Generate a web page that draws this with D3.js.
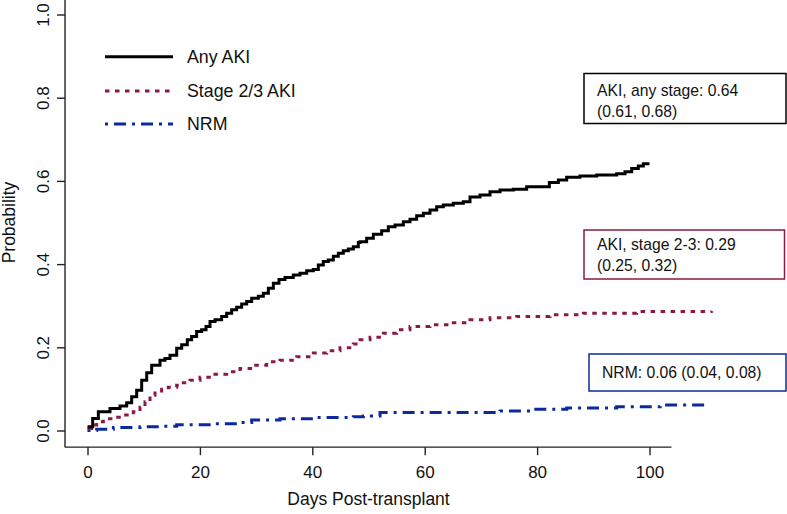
<!DOCTYPE html>
<html><head><meta charset="utf-8">
<script src="https://cdn.jsdelivr.net/npm/d3@7"></script>
<style>
html,body{margin:0;padding:0;background:#fff;}
svg{display:block;font-family:"Liberation Sans",Arial,Helvetica,sans-serif;}
</style></head>
<body>
<svg id="chart" width="787" height="514"></svg>
<script>
// ---- data ----
const anyAKIDays = [0,0.92,1.93,4.0,5.78,6.97,7.86,8.75,9.64,10.53,11.42,12.9,13.79,14.68,15.87,16.76,17.76,18.53,19.42,20.31,21.09,21.8,22.69,23.87,24.76,25.65,26.54,27.43,28.32,29.21,30.4,31.29,32.18,33.07,34.07,35.14,36.62,37.81,39.0,40.18,41.07,41.96,42.85,43.74,44.63,45.52,46.41,47.3,48.19,48.49,49.67,50.86,52.34,53.53,54.72,56.2,57.38,58.57,59.76,60.94,62.13,63.31,65.09,66.87,68.06,69.84,71.62,73.4,75.77,78.14,82.18,83.78,85.26,87.63,90.6,94.16,95.64,96.83,98.01,98.9,100];
const anyAKIProb = [0.009,0.029,0.045,0.053,0.059,0.067,0.081,0.097,0.121,0.139,0.157,0.169,0.173,0.181,0.198,0.206,0.218,0.226,0.238,0.242,0.250,0.262,0.266,0.274,0.282,0.290,0.296,0.304,0.310,0.318,0.323,0.330,0.342,0.354,0.363,0.368,0.374,0.378,0.384,0.387,0.398,0.406,0.410,0.419,0.426,0.432,0.436,0.442,0.452,0.454,0.462,0.472,0.480,0.490,0.494,0.502,0.508,0.516,0.522,0.530,0.538,0.542,0.546,0.550,0.561,0.566,0.574,0.578,0.580,0.586,0.596,0.602,0.609,0.612,0.614,0.617,0.622,0.630,0.636,0.641,0.641];

const stage23Days = [0,0.74,1.63,2.82,4.6,6.38,8.15,9.34,10.23,11.12,12.01,13.2,14.38,15.87,17.05,18.24,20.02,22.39,24.76,27.13,29.5,31.88,34.25,37.22,40.18,42.56,44.93,47.3,48.49,50.27,52.64,55.01,57.38,60.94,64.5,68.06,71.62,76.37,82.3,88.24,97.72,111];
const stage23Prob = [0.005,0.013,0.021,0.028,0.032,0.037,0.045,0.056,0.069,0.085,0.095,0.099,0.104,0.109,0.115,0.121,0.128,0.135,0.141,0.149,0.157,0.165,0.169,0.177,0.186,0.192,0.199,0.208,0.218,0.224,0.234,0.242,0.250,0.254,0.259,0.266,0.271,0.274,0.278,0.282,0.286,0.287];

const nrmDays = [0,1.63,4.6,9.34,13.49,15.87,22.39,27.13,29.21,34.25,40.18,47.3,49.08,52.05,73.4,78.73,85.26,94.16,101.9,110];
const nrmProb = [0,0.003,0.0075,0.009,0.010,0.014,0.016,0.019,0.025,0.028,0.031,0.033,0.035,0.043,0.047,0.051,0.054,0.057,0.061,0.062];

const xTicks = [0,20,40,60,80,100];
const yTicks = [0.0,0.2,0.4,0.6,0.8,1.0];
const seriesNames = ["Any AKI","Stage 2/3 AKI","NRM"];
const boxLines = [
  ["AKI, any stage: 0.64","(0.61, 0.68)"],
  ["AKI, stage 2-3: 0.29","(0.25, 0.32)"],
  ["NRM: 0.06 (0.04, 0.08)"]
];
const xLabel = "Days Post-transplant";
const yLabel = "Probability";

// ---- styles ----
const colors = ["#000000","#8c1a3e","#0b2a9e"];
const dashes = [null,"4.5,5.5","3,6,12,6"];

const svg = d3.select("#chart");
const x = d3.scaleLinear().domain([0,100]).range([87.5,649.5]);
const y = d3.scaleLinear().domain([0,1]).range([430.5,14.5]);

const axisColor = "#222";
// L-shaped frame
svg.append("line").attr("x1",x(-4)).attr("x2",x(-4)).attr("y1",y(1.04)).attr("y2",y(-0.04))
  .attr("stroke",axisColor).attr("stroke-width",1.4);
svg.append("line").attr("x1",x(-4)).attr("x2",x(103.9)).attr("y1",y(-0.04)).attr("y2",y(-0.04))
  .attr("stroke",axisColor).attr("stroke-width",1.4);

// x axis
const gx = svg.append("g").attr("transform",`translate(0,${y(-0.04)})`)
  .call(d3.axisBottom(x).tickValues(xTicks).tickFormat(d3.format("d")).tickSize(8).tickSizeOuter(0));
gx.select(".domain").remove();
gx.selectAll(".tick line").attr("stroke",axisColor).attr("stroke-width",1.4);
gx.selectAll(".tick text").attr("y",30.5).attr("dy",0).attr("fill","#111").style("font-size","17px");

// y axis
const gy = svg.append("g").attr("transform",`translate(${x(-4)},0)`)
  .call(d3.axisLeft(y).tickValues(yTicks).tickFormat(d3.format(".1f")).tickSize(8).tickSizeOuter(0));
gy.select(".domain").remove();
gy.selectAll(".tick line").attr("stroke",axisColor).attr("stroke-width",1.4);
gy.selectAll(".tick text").attr("x",0).attr("y",-16).attr("dy",0)
  .attr("transform","rotate(-90)").style("text-anchor","middle").attr("fill","#111").style("font-size","17px");

// axis titles
svg.append("text").attr("x",(x(-4)+x(104))/2).attr("y",505).attr("text-anchor","middle")
  .style("font-size","17.5px").attr("fill","#111").text(xLabel);
svg.append("text").attr("transform",`translate(15,${(y(-0.04)+y(1.04))/2}) rotate(-90)`)
  .attr("text-anchor","middle").style("font-size","17.5px").attr("fill","#111").text(yLabel);

// curves
const line = d3.line().curve(d3.curveStepAfter).x(d=>x(d[0])).y(d=>y(d[1]));
const series = [
  d3.zip(anyAKIDays, anyAKIProb),
  d3.zip(stage23Days, stage23Prob),
  d3.zip(nrmDays, nrmProb)
];
[2,1,0].forEach(i=>{
  svg.append("path").attr("d",line(series[i])).attr("fill","none")
    .attr("stroke",colors[i]).attr("stroke-width",3)
    .attr("stroke-dasharray",dashes[i]);
});

// legend
const legY = [56.7, 91, 124];
seriesNames.forEach((n,i)=>{
  svg.append("line").attr("x1",105).attr("x2",173).attr("y1",legY[i]).attr("y2",legY[i])
    .attr("stroke",colors[i]).attr("stroke-width",3).attr("stroke-dasharray",dashes[i]);
  svg.append("text").attr("x",187).attr("y",legY[i]).attr("dy","0.34em")
    .style("font-size","17.8px").attr("fill","#111").text(n);
});

// annotation boxes
const boxes = [
  {x0:584,y0:73.5,x1:786,y1:123.5,tx:597,ty:[96,117]},
  {x0:584,y0:230,x1:784.5,y1:279,tx:597,ty:[249.5,270.5]},
  {x0:589,y0:354,x1:786,y1:391,tx:602,ty:[378]}
];
boxes.forEach((b,i)=>{
  svg.append("rect").attr("x",b.x0).attr("y",b.y0).attr("width",b.x1-b.x0).attr("height",b.y1-b.y0)
    .attr("fill","#fff").attr("stroke",colors[i]).attr("stroke-width",1.5);
  boxLines[i].forEach((t,j)=>{
    svg.append("text").attr("x",b.tx).attr("y",b.ty[j]).style("font-size","15.7px")
      .attr("fill","#111").text(t);
  });
});
</script>
</body></html>
